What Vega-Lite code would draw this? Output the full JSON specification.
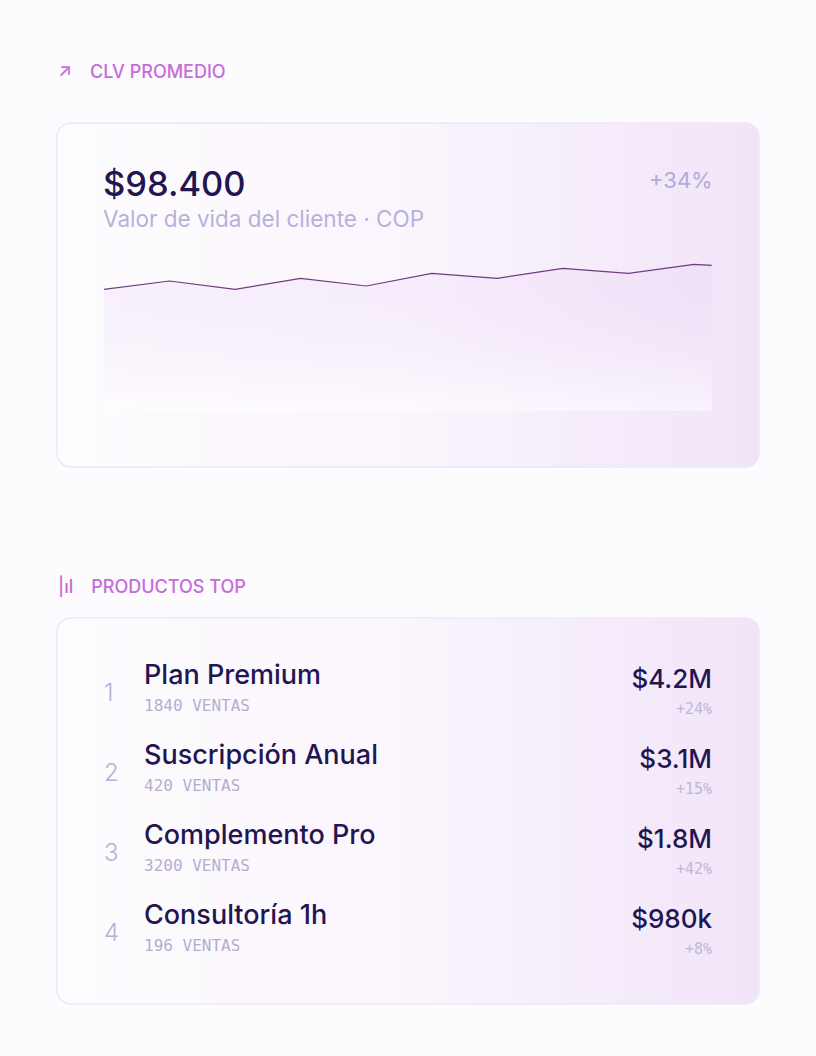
{
  "$schema": "https://vega.github.io/schema/vega-lite/v6.json",
  "background": "#fcfbfd",
  "padding": {"left": 56, "right": 57, "top": 63, "bottom": 52},
  "spacing": 111,
  "vconcat": [
    {
      "title": {
        "text": "↗\u2002\u2002CLV PROMEDIO",
        "anchor": "start",
        "frame": "group",
        "baseline": "top",
        "offset": 40.5,
        "dx": 1,
        "font": "Inter",
        "fontSize": 18,
        "fontWeight": 500,
        "color": "#c66cda"
      },
      "vconcat": [
        {
          "width": 702,
          "height": 344,
          "title": {
            "text": "$98.400",
            "subtitle": "Valor de vida del cliente · COP",
            "anchor": "start",
            "frame": "group",
            "baseline": "top",
            "offset": -109,
            "dx": 46,
            "font": "Inter",
            "fontSize": 34.5,
            "fontWeight": 500,
            "color": "#1f1652",
            "subtitleFont": "Inter",
            "subtitleFontSize": 22.5,
            "subtitleColor": "#b7b1da",
            "subtitlePadding": 5.3
          },
          "data": {
            "values": [
              {"mes": 0, "clv": 82.19},
              {"mes": 1, "clv": 87.8},
              {"mes": 2, "clv": 82.19},
              {"mes": 3, "clv": 89.62},
              {"mes": 4, "clv": 84.42},
              {"mes": 5, "clv": 93.0},
              {"mes": 6, "clv": 89.62},
              {"mes": 7, "clv": 96.37},
              {"mes": 8, "clv": 93.0},
              {"mes": 9, "clv": 99.08},
              {"mes": 9.27, "clv": 98.4}
            ]
          },
          "encoding": {
            "x": {
              "field": "mes",
              "type": "quantitative",
              "axis": null,
              "scale": {"domain": [0, 9.27], "range": [47, 654.7], "nice": false, "zero": false}
            },
            "y": {
              "field": "clv",
              "type": "quantitative",
              "axis": null,
              "scale": {"domain": [0, 99.08], "range": [288, 141.3], "nice": false}
            }
          },
          "layer": [
            {
              "mark": {
                "type": "area",
                "fill": {
                  "gradient": "linear",
                  "x1": 0, "y1": 0, "x2": 0, "y2": 1,
                  "stops": [
                    {"offset": 0, "color": "rgba(226,198,243,0.18)"},
                    {"offset": 1, "color": "rgba(255,255,255,0.5)"}
                  ]
                }
              }
            },
            {
              "mark": {"type": "line", "color": "#6e3d80", "strokeWidth": 1.2}
            },
            {
              "mark": {
                "type": "text",
                "align": "right",
                "baseline": "alphabetic",
                "dx": 1,
                "dy": -76.6,
                "font": "Inter",
                "fontSize": 22,
                "color": "#b0acd8"
              },
              "encoding": {
                "x": {"aggregate": "max", "field": "mes", "type": "quantitative"},
                "y": {"aggregate": "max", "field": "clv", "type": "quantitative"},
                "text": {"value": "+34%"}
              }
            }
          ]
        }
      ]
    },
    {
      "title": {
        "text": "|ıl\u2002\u2002PRODUCTOS TOP",
        "anchor": "start",
        "frame": "group",
        "baseline": "top",
        "offset": 20,
        "dx": 1,
        "font": "Inter",
        "fontSize": 18,
        "fontWeight": 500,
        "color": "#c66cda"
      },
      "vconcat": [
        {
          "width": 702,
          "height": 386,
          "data": {
            "values": [
              {"rank": 1, "producto": "Plan Premium", "ventas": 1840, "ingresos": "$4.2M", "crecimiento": 24},
              {"rank": 2, "producto": "Suscripción Anual", "ventas": 420, "ingresos": "$3.1M", "crecimiento": 15},
              {"rank": 3, "producto": "Complemento Pro", "ventas": 3200, "ingresos": "$1.8M", "crecimiento": 42},
              {"rank": 4, "producto": "Consultoría 1h", "ventas": 196, "ingresos": "$980k", "crecimiento": 8}
            ]
          },
          "transform": [
            {"calculate": "datum.ventas + ' VENTAS'", "as": "ventas_label"},
            {"calculate": "'+' + datum.crecimiento + '%'", "as": "crec_label"}
          ],
          "encoding": {
            "y": {
              "field": "rank",
              "type": "ordinal",
              "axis": null,
              "scale": {"type": "point", "range": [66, 306], "padding": 0}
            }
          },
          "layer": [
            {
              "mark": {"type": "text", "align": "left", "baseline": "alphabetic", "dy": 16.7, "font": "Inter", "fontSize": 24, "fontWeight": 300, "color": "#b5b0d8"},
              "encoding": {"x": {"value": 47}, "text": {"field": "rank"}}
            },
            {
              "mark": {"type": "text", "align": "left", "baseline": "alphabetic", "font": "Inter", "fontSize": 27, "fontWeight": 500, "color": "#1f1652"},
              "encoding": {"x": {"value": 87}, "text": {"field": "producto"}}
            },
            {
              "mark": {"type": "text", "align": "left", "baseline": "alphabetic", "dy": 26.7, "font": "DejaVu Sans Mono", "fontSize": 16, "color": "#b3aecf"},
              "encoding": {"x": {"value": 87}, "text": {"field": "ventas_label"}}
            },
            {
              "mark": {"type": "text", "align": "right", "baseline": "alphabetic", "dy": 4, "font": "Inter", "fontSize": 26, "fontWeight": 500, "color": "#1f1652"},
              "encoding": {"x": {"value": 655}, "text": {"field": "ingresos"}}
            },
            {
              "mark": {"type": "text", "align": "right", "baseline": "alphabetic", "dy": 30, "font": "DejaVu Sans Mono", "fontSize": 15, "color": "#bcb9d8"},
              "encoding": {"x": {"value": 655}, "text": {"field": "crec_label"}}
            }
          ]
        }
      ]
    }
  ],
  "config": {
    "view": {
      "fill": {
        "gradient": "linear",
        "x1": 0, "y1": 0, "x2": 1, "y2": 0,
        "stops": [
          {"offset": 0, "color": "#fdfcfe"},
          {"offset": 0.5, "color": "#fbf5fd"},
          {"offset": 1, "color": "#f1e4f8"}
        ]
      },
      "stroke": "#ebe8f7",
      "strokeWidth": 1.5,
      "cornerRadius": 14
    }
  }
}
